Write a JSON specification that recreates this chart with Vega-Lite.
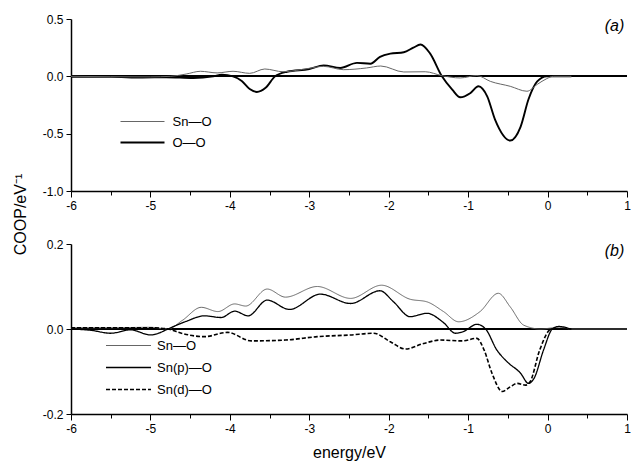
{
  "$schema": "https://vega.github.io/schema/vega-lite/v6.json",
  "padding": {"left": 12, "top": 13, "right": 1, "bottom": 2},
  "background": "white",
  "config": {
    "view": {"stroke": null},
    "font": "Liberation Sans",
    "axis": {
      "grid": false,
      "domainColor": "black",
      "domainWidth": 1.5,
      "tickColor": "black",
      "tickWidth": 1,
      "labelColor": "black",
      "labelFont": "Liberation Sans",
      "labelFontSize": 12,
      "labelFlush": false,
      "titleFont": "Liberation Sans",
      "titleFontSize": 16,
      "titleFontWeight": "normal",
      "titleColor": "black"
    },
    "legend": {
      "orient": "none",
      "title": null,
      "padding": 0,
      "labelFont": "Liberation Sans",
      "labelFontSize": 13,
      "labelColor": "black"
    }
  },
  "datasets": {
    "a": [
      {"e": -6.0, "v": -0.005, "s": "O—O"},
      {"e": -5.5, "v": -0.005, "s": "O—O"},
      {"e": -5.1, "v": -0.01, "s": "O—O"},
      {"e": -4.8, "v": -0.008, "s": "O—O"},
      {"e": -4.46, "v": -0.015, "s": "O—O"},
      {"e": -4.21, "v": 0.0, "s": "O—O"},
      {"e": -4.1, "v": 0.015, "s": "O—O"},
      {"e": -3.96, "v": 0.0, "s": "O—O"},
      {"e": -3.85, "v": -0.04, "s": "O—O"},
      {"e": -3.75, "v": -0.11, "s": "O—O"},
      {"e": -3.66, "v": -0.136, "s": "O—O"},
      {"e": -3.55, "v": -0.1, "s": "O—O"},
      {"e": -3.43, "v": 0.0, "s": "O—O"},
      {"e": -3.28, "v": 0.04, "s": "O—O"},
      {"e": -3.0, "v": 0.064, "s": "O—O"},
      {"e": -2.82, "v": 0.096, "s": "O—O"},
      {"e": -2.61, "v": 0.073, "s": "O—O"},
      {"e": -2.4, "v": 0.117, "s": "O—O"},
      {"e": -2.23, "v": 0.11, "s": "O—O"},
      {"e": -2.11, "v": 0.17, "s": "O—O"},
      {"e": -1.98, "v": 0.198, "s": "O—O"},
      {"e": -1.81, "v": 0.21, "s": "O—O"},
      {"e": -1.69, "v": 0.25, "s": "O—O"},
      {"e": -1.6, "v": 0.277, "s": "O—O"},
      {"e": -1.48, "v": 0.2, "s": "O—O"},
      {"e": -1.33, "v": 0.0, "s": "O—O"},
      {"e": -1.2, "v": -0.116, "s": "O—O"},
      {"e": -1.1, "v": -0.183, "s": "O—O"},
      {"e": -0.97, "v": -0.145, "s": "O—O"},
      {"e": -0.87, "v": -0.087, "s": "O—O"},
      {"e": -0.76, "v": -0.175, "s": "O—O"},
      {"e": -0.66, "v": -0.38, "s": "O—O"},
      {"e": -0.47, "v": -0.56, "s": "O—O"},
      {"e": -0.34, "v": -0.44, "s": "O—O"},
      {"e": -0.24, "v": -0.2, "s": "O—O"},
      {"e": -0.13, "v": -0.044, "s": "O—O"},
      {"e": -0.01, "v": 0.0, "s": "O—O"},
      {"e": 0.3, "v": 0.0, "s": "O—O"},
      {"e": -6.0, "v": 0.0, "s": "Sn—O"},
      {"e": -5.0, "v": -0.005, "s": "Sn—O"},
      {"e": -4.75, "v": 0.0, "s": "Sn—O"},
      {"e": -4.55, "v": 0.02, "s": "Sn—O"},
      {"e": -4.37, "v": 0.044, "s": "Sn—O"},
      {"e": -4.16, "v": 0.03, "s": "Sn—O"},
      {"e": -3.96, "v": 0.044, "s": "Sn—O"},
      {"e": -3.75, "v": 0.026, "s": "Sn—O"},
      {"e": -3.56, "v": 0.064, "s": "Sn—O"},
      {"e": -3.33, "v": 0.04, "s": "Sn—O"},
      {"e": -3.0, "v": 0.07, "s": "Sn—O"},
      {"e": -2.82, "v": 0.087, "s": "Sn—O"},
      {"e": -2.57, "v": 0.058, "s": "Sn—O"},
      {"e": -2.28, "v": 0.073, "s": "Sn—O"},
      {"e": -2.1, "v": 0.09, "s": "Sn—O"},
      {"e": -1.81, "v": 0.038, "s": "Sn—O"},
      {"e": -1.54, "v": 0.04, "s": "Sn—O"},
      {"e": -1.33, "v": 0.006, "s": "Sn—O"},
      {"e": -1.1, "v": -0.014, "s": "Sn—O"},
      {"e": -0.89, "v": 0.007, "s": "Sn—O"},
      {"e": -0.72, "v": -0.044, "s": "Sn—O"},
      {"e": -0.47, "v": -0.087, "s": "Sn—O"},
      {"e": -0.26, "v": -0.13, "s": "Sn—O"},
      {"e": -0.13, "v": -0.07, "s": "Sn—O"},
      {"e": -0.01, "v": -0.02, "s": "Sn—O"},
      {"e": 0.07, "v": 0.0, "s": "Sn—O"},
      {"e": 0.3, "v": 0.0, "s": "Sn—O"}
    ],
    "b": [
      {"e": -6.0, "v": 0.003, "s": "Sn—O"},
      {"e": -5.5, "v": 0.003, "s": "Sn—O"},
      {"e": -5.0, "v": 0.004, "s": "Sn—O"},
      {"e": -4.78, "v": 0.0, "s": "Sn—O"},
      {"e": -4.6, "v": 0.02, "s": "Sn—O"},
      {"e": -4.36, "v": 0.051, "s": "Sn—O"},
      {"e": -4.15, "v": 0.041, "s": "Sn—O"},
      {"e": -3.94, "v": 0.059, "s": "Sn—O"},
      {"e": -3.8, "v": 0.054, "s": "Sn—O"},
      {"e": -3.53, "v": 0.094, "s": "Sn—O"},
      {"e": -3.3, "v": 0.075, "s": "Sn—O"},
      {"e": -2.9, "v": 0.1, "s": "Sn—O"},
      {"e": -2.48, "v": 0.072, "s": "Sn—O"},
      {"e": -2.09, "v": 0.103, "s": "Sn—O"},
      {"e": -1.73, "v": 0.07, "s": "Sn—O"},
      {"e": -1.52, "v": 0.064, "s": "Sn—O"},
      {"e": -1.31, "v": 0.041, "s": "Sn—O"},
      {"e": -1.12, "v": 0.017, "s": "Sn—O"},
      {"e": -0.85, "v": 0.041, "s": "Sn—O"},
      {"e": -0.62, "v": 0.084, "s": "Sn—O"},
      {"e": -0.47, "v": 0.052, "s": "Sn—O"},
      {"e": -0.3, "v": 0.009, "s": "Sn—O"},
      {"e": -0.09, "v": 0.0, "s": "Sn—O"},
      {"e": 0.15, "v": 0.004, "s": "Sn—O"},
      {"e": 0.3, "v": 0.0, "s": "Sn—O"},
      {"e": 1.0, "v": 0.0, "s": "Sn—O"},
      {"e": -6.0, "v": 0.0, "s": "Sn(p)—O"},
      {"e": -5.75, "v": -0.003, "s": "Sn(p)—O"},
      {"e": -5.5, "v": -0.01, "s": "Sn(p)—O"},
      {"e": -5.25, "v": -0.002, "s": "Sn(p)—O"},
      {"e": -5.0, "v": -0.014, "s": "Sn(p)—O"},
      {"e": -4.9, "v": -0.01, "s": "Sn(p)—O"},
      {"e": -4.78, "v": 0.0, "s": "Sn(p)—O"},
      {"e": -4.55, "v": 0.018, "s": "Sn(p)—O"},
      {"e": -4.32, "v": 0.031, "s": "Sn(p)—O"},
      {"e": -4.11, "v": 0.027, "s": "Sn(p)—O"},
      {"e": -3.94, "v": 0.042, "s": "Sn(p)—O"},
      {"e": -3.77, "v": 0.031, "s": "Sn(p)—O"},
      {"e": -3.53, "v": 0.068, "s": "Sn(p)—O"},
      {"e": -3.25, "v": 0.046, "s": "Sn(p)—O"},
      {"e": -2.86, "v": 0.082, "s": "Sn(p)—O"},
      {"e": -2.48, "v": 0.06, "s": "Sn(p)—O"},
      {"e": -2.11, "v": 0.09, "s": "Sn(p)—O"},
      {"e": -1.94, "v": 0.064, "s": "Sn(p)—O"},
      {"e": -1.73, "v": 0.029, "s": "Sn(p)—O"},
      {"e": -1.52, "v": 0.037, "s": "Sn(p)—O"},
      {"e": -1.31, "v": 0.015, "s": "Sn(p)—O"},
      {"e": -1.16, "v": -0.01, "s": "Sn(p)—O"},
      {"e": -1.06, "v": -0.006, "s": "Sn(p)—O"},
      {"e": -0.89, "v": 0.011, "s": "Sn(p)—O"},
      {"e": -0.78, "v": 0.0, "s": "Sn(p)—O"},
      {"e": -0.64, "v": -0.049, "s": "Sn(p)—O"},
      {"e": -0.51, "v": -0.077, "s": "Sn(p)—O"},
      {"e": -0.34, "v": -0.104, "s": "Sn(p)—O"},
      {"e": -0.24, "v": -0.128, "s": "Sn(p)—O"},
      {"e": -0.17, "v": -0.116, "s": "Sn(p)—O"},
      {"e": -0.05, "v": -0.049, "s": "Sn(p)—O"},
      {"e": 0.06, "v": 0.0, "s": "Sn(p)—O"},
      {"e": 0.14, "v": 0.006, "s": "Sn(p)—O"},
      {"e": 0.29, "v": 0.0, "s": "Sn(p)—O"},
      {"e": -6.0, "v": 0.003, "s": "Sn(d)—O"},
      {"e": -5.0, "v": 0.003, "s": "Sn(d)—O"},
      {"e": -4.78, "v": 0.0, "s": "Sn(d)—O"},
      {"e": -4.61, "v": -0.01, "s": "Sn(d)—O"},
      {"e": -4.32, "v": -0.018, "s": "Sn(d)—O"},
      {"e": -4.03, "v": -0.008, "s": "Sn(d)—O"},
      {"e": -3.73, "v": -0.028, "s": "Sn(d)—O"},
      {"e": -3.3, "v": -0.026, "s": "Sn(d)—O"},
      {"e": -2.9, "v": -0.018, "s": "Sn(d)—O"},
      {"e": -2.48, "v": -0.014, "s": "Sn(d)—O"},
      {"e": -2.19, "v": -0.01, "s": "Sn(d)—O"},
      {"e": -1.98, "v": -0.03, "s": "Sn(d)—O"},
      {"e": -1.79, "v": -0.047, "s": "Sn(d)—O"},
      {"e": -1.56, "v": -0.034, "s": "Sn(d)—O"},
      {"e": -1.35, "v": -0.026, "s": "Sn(d)—O"},
      {"e": -1.08, "v": -0.028, "s": "Sn(d)—O"},
      {"e": -0.89, "v": -0.022, "s": "Sn(d)—O"},
      {"e": -0.8, "v": -0.049, "s": "Sn(d)—O"},
      {"e": -0.7, "v": -0.104, "s": "Sn(d)—O"},
      {"e": -0.57, "v": -0.147, "s": "Sn(d)—O"},
      {"e": -0.47, "v": -0.136, "s": "Sn(d)—O"},
      {"e": -0.38, "v": -0.128, "s": "Sn(d)—O"},
      {"e": -0.28, "v": -0.132, "s": "Sn(d)—O"},
      {"e": -0.22, "v": -0.124, "s": "Sn(d)—O"},
      {"e": -0.1, "v": -0.05, "s": "Sn(d)—O"},
      {"e": 0.05, "v": 0.0, "s": "Sn(d)—O"},
      {"e": 0.3, "v": 0.0, "s": "Sn(d)—O"}
    ]
  },
  "bounds": "flush",
  "spacing": 53,
  "resolve": {
    "scale": {"color": "independent", "strokeWidth": "independent", "strokeDash": "independent"},
    "legend": {"color": "independent", "strokeWidth": "independent", "strokeDash": "independent"}
  },
  "vconcat": [
    {
      "width": 556,
      "height": 172,
      "title": {"text": "(a)", "anchor": "end", "orient": "top", "offset": -21, "dx": -6, "fontSize": 16, "fontStyle": "italic", "fontWeight": "normal", "font": "Liberation Sans", "color": "black"},
      "data": {"name": "a"},
      "layer": [
        {
          "mark": {"type": "rule", "color": "black", "strokeWidth": 1},
          "encoding": {"y": {"datum": 0, "type": "quantitative"}}
        },
        {
          "mark": {"type": "line", "interpolate": "monotone"},
          "encoding": {
            "x": {
              "field": "e", "type": "quantitative",
              "scale": {"domain": [-6, 1], "nice": false, "zero": false},
              "axis": {
                "title": null,
                "values": [-6, -5.5, -5, -4.5, -4, -3.5, -3, -2.5, -2, -1.5, -1, -0.5, 0, 0.5, 1],
                "format": ".0f",
                "labelExpr": "datum.value % 1 === 0 ? replace(datum.label, '\u2212', '-') : ''",
                "tickSize": {"condition": {"test": "datum.value % 1 !== 0", "value": 4}, "value": 6},
                "labelPadding": 3
              }
            },
            "y": {
              "field": "v", "type": "quantitative",
              "scale": {"domain": [-1, 0.5], "nice": false, "zero": false},
              "axis": {
                "title": "COOP/eV\u207B\u00B9",
                "titleX": -43,
                "titleY": 195,
                "titleAngle": -90,
                "titleAnchor": null,
                "values": [-1, -0.5, 0, 0.5],
                "format": ".1f",
                "labelExpr": "replace(datum.label, '\u2212', '-')",
                "tickSize": 5,
                "labelPadding": 3
              }
            },
            "color": {
              "field": "s", "type": "nominal",
              "scale": {"domain": ["Sn—O", "O—O"], "range": ["#666666", "#000000"]},
              "legend": {"legendX": 65, "legendY": 96, "symbolType": "M-22,0H22", "symbolSize": 4, "labelOffset": 23.5, "rowPadding": 7}
            },
            "strokeWidth": {
              "field": "s", "type": "nominal",
              "scale": {"domain": ["Sn—O", "O—O"], "range": [1, 1.9]},
              "legend": {"legendX": 65, "legendY": 96, "symbolType": "M-22,0H22", "symbolSize": 4, "labelOffset": 23.5, "rowPadding": 7}
            }
          }
        }
      ]
    },
    {
      "width": 556,
      "height": 170,
      "title": {"text": "(b)", "anchor": "end", "orient": "top", "offset": -21, "dx": -6, "fontSize": 16, "fontStyle": "italic", "fontWeight": "normal", "font": "Liberation Sans", "color": "black"},
      "data": {"name": "b"},
      "layer": [
        {
          "mark": {"type": "rule", "color": "black", "strokeWidth": 1},
          "encoding": {"y": {"datum": 0, "type": "quantitative"}}
        },
        {
          "mark": {"type": "line", "interpolate": "monotone"},
          "encoding": {
            "x": {
              "field": "e", "type": "quantitative",
              "scale": {"domain": [-6, 1], "nice": false, "zero": false},
              "axis": {
                "title": "energy/eV",
                "titlePadding": 10,
                "values": [-6, -5.5, -5, -4.5, -4, -3.5, -3, -2.5, -2, -1.5, -1, -0.5, 0, 0.5, 1],
                "format": ".0f",
                "labelExpr": "datum.value % 1 === 0 ? replace(datum.label, '\u2212', '-') : ''",
                "tickSize": {"condition": {"test": "datum.value % 1 !== 0", "value": 4}, "value": 6},
                "labelPadding": 3
              }
            },
            "y": {
              "field": "v", "type": "quantitative",
              "scale": {"domain": [-0.2, 0.2], "nice": false, "zero": false},
              "axis": {
                "title": null,
                "values": [-0.2, 0, 0.2],
                "format": ".1f",
                "labelExpr": "replace(datum.label, '\u2212', '-')",
                "tickSize": 5,
                "labelPadding": 3
              }
            },
            "color": {
              "field": "s", "type": "nominal",
              "scale": {"domain": ["Sn—O", "Sn(p)—O", "Sn(d)—O"], "range": ["#666666", "#000000", "#000000"]},
              "legend": {"legendX": 51, "legendY": 95, "symbolType": "M-22.5,0H22.5", "symbolSize": 4, "labelOffset": 22, "rowPadding": 8}
            },
            "strokeWidth": {
              "field": "s", "type": "nominal",
              "scale": {"domain": ["Sn—O", "Sn(p)—O", "Sn(d)—O"], "range": [1, 1.6, 1.1]},
              "legend": {"legendX": 51, "legendY": 95, "symbolType": "M-22.5,0H22.5", "symbolSize": 4, "labelOffset": 22, "rowPadding": 8}
            },
            "strokeDash": {
              "field": "s", "type": "nominal",
              "scale": {"domain": ["Sn—O", "Sn(p)—O", "Sn(d)—O"], "range": [[1, 0], [1, 0], [4, 2]]},
              "legend": {"legendX": 51, "legendY": 95, "symbolType": "M-22.5,0H22.5", "symbolSize": 4, "labelOffset": 22, "rowPadding": 8}
            }
          }
        }
      ]
    }
  ]
}
